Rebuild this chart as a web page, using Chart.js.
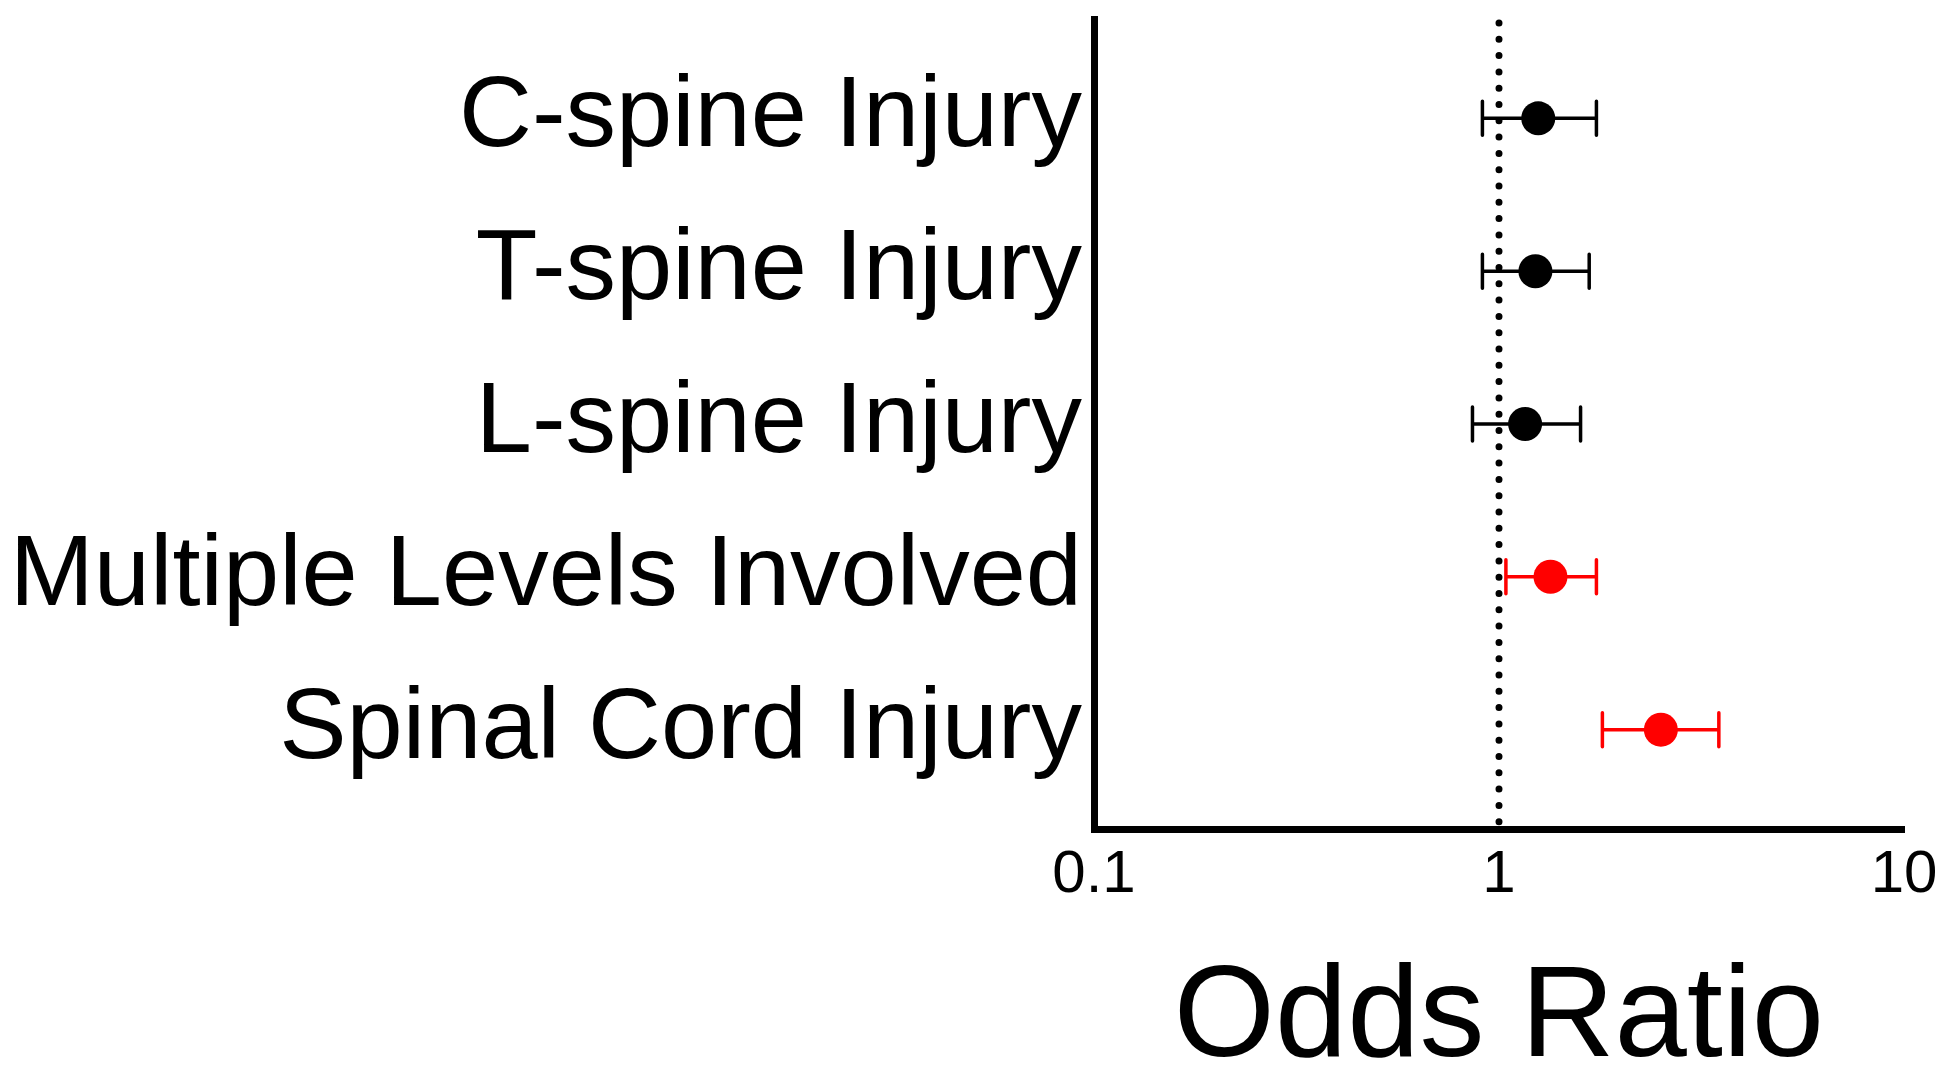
<!DOCTYPE html>
<html>
<head>
<meta charset="utf-8">
<title>Odds Ratio forest plot</title>
<script src="https://cdn.jsdelivr.net/npm/chart.js@4.4.0/dist/chart.umd.min.js"></script>
<style>
  html, body { margin: 0; padding: 0; background: #fff; }
  #wrap { width: 1950px; height: 1072px; }
</style>
</head>
<body>
<div id="wrap"><canvas id="forest" width="1950" height="1072"></canvas></div>
<script>
// Outcomes, top to bottom
const outcomes = [
  'C-spine Injury',
  'T-spine Injury',
  'L-spine Injury',
  'Multiple Levels Involved',
  'Spinal Cord Injury'
];
// Odds ratio with 95% CI
const oddsRatio = [1.25, 1.23, 1.16, 1.34, 2.51];
const ciLow = [0.91, 0.91, 0.86, 1.04, 1.80];
const ciHigh = [1.74, 1.67, 1.59, 1.74, 3.49];
const significant = [false, false, false, true, true];
const xTicks = [0.1, 1, 10];

const BLACK = '#000000';
const RED = '#ff0000';
const FONT = '"Liberation Sans", Arial, Helvetica, sans-serif';

// Reference line at OR = 1 and CI whiskers
const forestLines = {
  id: 'forestLines',
  beforeDatasetsDraw(chart) {
    const { ctx, chartArea, scales: { x, y } } = chart;
    ctx.save();

    const x1 = x.getPixelForValue(1);
    ctx.strokeStyle = BLACK;
    ctx.lineWidth = 7;
    ctx.lineCap = 'round';
    ctx.setLineDash([0, 16.3]);
    ctx.beginPath();
    ctx.moveTo(x1, chartArea.top + 4);
    ctx.lineTo(x1, chartArea.bottom);
    ctx.stroke();
    ctx.setLineDash([]);

    ctx.lineWidth = 3.5;
    outcomes.forEach((_, i) => {
      const yy = y.getPixelForValue(i + 1);
      const xl = x.getPixelForValue(ciLow[i]);
      const xh = x.getPixelForValue(ciHigh[i]);
      ctx.strokeStyle = significant[i] ? RED : BLACK;
      ctx.beginPath();
      ctx.moveTo(xl, yy);
      ctx.lineTo(xh, yy);
      ctx.moveTo(xl, yy - 17);
      ctx.lineTo(xl, yy + 17);
      ctx.moveTo(xh, yy - 17);
      ctx.lineTo(xh, yy + 17);
      ctx.stroke();
    });
    ctx.restore();
  }
};

new Chart(document.getElementById('forest'), {
  type: 'scatter',
  data: {
    datasets: [{
      data: oddsRatio.map((v, i) => ({ x: v, y: i + 1 })),
      pointRadius: 17,
      pointHoverRadius: 17,
      pointBorderWidth: 0,
      pointBackgroundColor: significant.map(s => s ? RED : BLACK),
      clip: false
    }]
  },
  options: {
    responsive: false,
    animation: false,
    layout: {
      padding: { top: 19, right: 46, bottom: 0, left: 0 }
    },
    plugins: {
      legend: { display: false },
      tooltip: { enabled: false }
    },
    scales: {
      x: {
        type: 'logarithmic',
        min: 0.1,
        max: 10,
        afterBuildTicks: axis => { axis.ticks = xTicks.map(v => ({ value: v })); },
        grid: { display: false, drawTicks: false },
        border: { color: BLACK, width: 7 },
        ticks: {
          padding: 10,
          color: BLACK,
          maxRotation: 0,
          font: { family: FONT, size: 60, lineHeight: 1.2 },
          callback: value => String(value)
        },
        title: {
          display: true,
          text: 'Odds Ratio',
          color: BLACK,
          font: { family: FONT, size: 130, lineHeight: 0.8 },
          padding: { top: 47, bottom: 0 }
        }
      },
      y: {
        type: 'linear',
        reverse: true,
        min: 0.35,
        max: 5.65,
        afterBuildTicks: axis => { axis.ticks = outcomes.map((_, i) => ({ value: i + 1 })); },
        afterFit: axis => {
          axis.width = 1094;
          axis.paddingTop = 0;
          axis.paddingBottom = 0;
        },
        grid: { display: false, drawTicks: false },
        border: { color: BLACK, width: 7 },
        ticks: {
          padding: 12,
          color: BLACK,
          font: { family: FONT, size: 101 },
          callback: value => outcomes[value - 1]
        }
      }
    }
  },
  plugins: [forestLines]
});
</script>
</body>
</html>
